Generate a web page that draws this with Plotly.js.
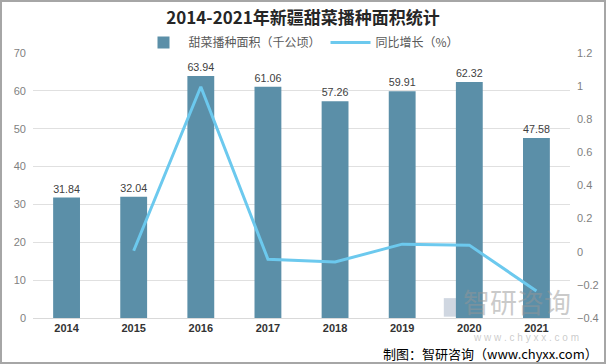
<!DOCTYPE html>
<html><head><meta charset="utf-8">
<script src="https://cdn.plot.ly/plotly-3.0.1.min.js"></script>
<style>body{margin:0;padding:0;background:#fff}#c{width:606px;height:364px;box-sizing:border-box;border:2px solid #a6a6a6;}</style>
</head><body><div id="c"></div>
<script>
const years = ['2014','2015','2016','2017','2018','2019','2020','2021'];
const area = [31.84,32.04,63.94,61.06,57.26,59.91,62.32,47.58];
const growthYears = ['2015','2016','2017','2018','2019','2020','2021'];
const growth = [0.006,0.996,-0.045,-0.062,0.046,0.040,-0.237];
const areaLabels = area.map(v=>v.toFixed(2));

const traces = [
 {type:'bar', x:years, y:area, name:'甜菜播种面积（千公顷）', marker:{color:'#5b8fa8'},
  width:0.4, text:areaLabels, textposition:'outside', cliponaxis:false,
  textfont:{size:11,color:'#404040',family:'Liberation Sans, Arial'}},
 {type:'scatter', mode:'lines', x:growthYears, y:growth, yaxis:'y2', name:'同比增长（%）',
  line:{color:'#6cc9ee',width:3}}
];
const layout = {
 width:602, height:360,
 margin:{l:31,r:34,t:51,b:44},
 paper_bgcolor:'#fff', plot_bgcolor:'#fff',
 title:{text:'<b>2014-2021年新疆甜菜播种面积统计</b>', x:0.5, xanchor:'center', y:0.955, yanchor:'middle',
   font:{family:'Noto Sans CJK SC', size:17, color:'#262626'}},
 showlegend:true,
 legend:{orientation:'h', x:0.5, xanchor:'center', y:1.04, yanchor:'middle',
   font:{family:'Noto Sans CJK SC', size:12, color:'#595959'}, traceorder:'normal', itemwidth:40},
 bargap:0.6,
 xaxis:{type:'category', tickfont:{family:'Liberation Sans, Arial', size:11, color:'#333'}, tickprefix:'<b>', ticksuffix:'</b>',
   showline:true, linecolor:'#d9d9d9', ticks:'', showgrid:false},
 yaxis:{range:[0,70], dtick:10, showgrid:true, gridcolor:'#e0e0e0', zeroline:false,
   tickfont:{family:'Liberation Sans, Arial', size:11, color:'#7f7f7f'}, ticklabelstandoff:6},
 yaxis2:{range:[-0.4,1.2], dtick:0.2, overlaying:'y', side:'right', showgrid:false, zeroline:false,
   tickfont:{family:'Liberation Sans, Arial', size:11, color:'#7f7f7f'}, ticklabelstandoff:6},
 shapes:[
  {type:'rect', xref:'paper', yref:'paper', x0:0.765, x1:0.795, y0:0.005, y1:0.075, line:{width:0}, fillcolor:'rgba(120,140,170,0.35)', layer:'below'},
  {type:'rect', xref:'paper', yref:'paper', x0:0.800, x1:0.828, y0:0.005, y1:0.075, line:{width:0}, fillcolor:'rgba(150,150,150,0.3)', layer:'below'}
 ],
 annotations:[
  {text:'智研咨询', xref:'paper', yref:'paper', x:1.005, y:-0.02, xanchor:'right', yanchor:'bottom', showarrow:false,
   font:{family:'Noto Sans CJK SC', size:27, color:'rgba(150,150,150,0.5)'}},
  {text:'w w w . c h y x x . c o m', xref:'paper', yref:'paper', x:1.02, y:-0.075, xanchor:'right', yanchor:'middle', showarrow:false,
   font:{family:'Liberation Sans, Arial', size:10, color:'rgba(150,150,150,0.5)'}},
  {text:'制图：智研咨询（www.chyxx.com）', xref:'paper', yref:'paper', x:1.055, y:-0.133, xanchor:'right', yanchor:'middle', showarrow:false,
   font:{family:'Noto Sans CJK SC', size:13, color:'#000'}}
 ]
};
Plotly.newPlot('c', traces, layout, {displayModeBar:false, staticPlot:true});
</script></body></html>
